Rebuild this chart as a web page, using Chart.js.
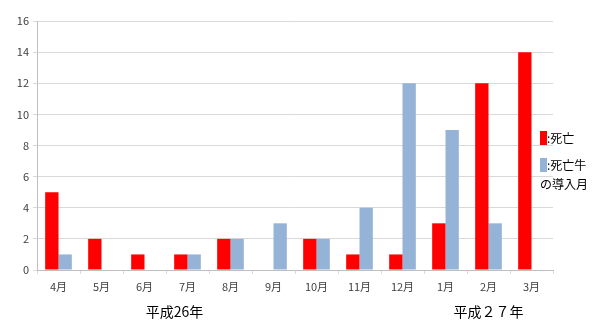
<!DOCTYPE html>
<html lang="ja">
<head>
<meta charset="UTF-8">
<title>死亡と導入月</title>
<script src="https://cdn.jsdelivr.net/npm/chart.js"></script>
<style>
  html, body { margin: 0; padding: 0; background: #fff; }
  #wrap { width: 593px; height: 320px; }
</style>
</head>
<body>
<div id="wrap"><canvas id="chart"></canvas></div>
<script>
const months = ['4月', '5月', '6月', '7月', '8月', '9月', '10月', '11月', '12月', '1月', '2月', '3月'];
const deaths = [5, 2, 1, 1, 2, 0, 2, 1, 1, 3, 12, 14];
const introduced = [1, 0, 0, 1, 2, 3, 2, 4, 12, 9, 3, 0];
const yearLabels = ['平成26年', '平成２７年'];
const legendLabels = [[':死亡'], [':死亡牛', 'の導入月']];
const seriesColors = ['#ff0000', '#95b3d7'];

const FONT = '"Noto Sans CJK JP", "Noto Sans", sans-serif';

// year captions under the month labels + legend at the right
const extras = {
  id: 'extras',
  afterDraw(chart) {
    const ctx = chart.ctx;
    const x = chart.scales.x;
    ctx.save();
    ctx.fillStyle = '#000';
    ctx.font = '14px ' + FONT;
    ctx.textAlign = 'center';
    ctx.textBaseline = 'middle';
    const anchors = [2.7, 10];
    yearLabels.forEach((t, i) => {
      ctx.fillText(t, x.getPixelForValue(anchors[i]), 312);
    });

    const lx = 540;
    const rows = [138, 165];
    ctx.textAlign = 'left';
    ctx.font = '12px ' + FONT;
    legendLabels.forEach((lines, k) => {
      const ly = rows[k];
      ctx.fillStyle = seriesColors[k];
      ctx.fillRect(lx, ly - 7, 7, 14);
      ctx.fillStyle = '#000';
      lines.forEach((t, i) => {
        ctx.fillText(t, i === 0 ? lx + 7 : lx, ly + i * 19);
      });
    });
    ctx.restore();
  }
};

new Chart(document.getElementById('chart'), {
  type: 'bar',
  data: {
    labels: months,
    datasets: [
      { label: '死亡', data: deaths, backgroundColor: seriesColors[0], barPercentage: 1, categoryPercentage: 0.62 },
      { label: '死亡牛の導入月', data: introduced, backgroundColor: seriesColors[1], barPercentage: 1, categoryPercentage: 0.62 }
    ]
  },
  options: {
    responsive: true,
    maintainAspectRatio: false,
    animation: false,
    layout: { padding: { top: 21, right: 40, left: 0, bottom: 0 } },
    plugins: { legend: { display: false }, tooltip: { enabled: false } },
    scales: {
      x: {
        grid: { offset: true, drawOnChartArea: false, color: '#d9d9d9', tickLength: 4 },
        border: { color: '#bfbfbf' },
        ticks: { color: '#404040', font: { size: 11, family: FONT }, padding: 6 },
        afterFit(s) { s.height = 50; }
      },
      y: {
        min: 0,
        max: 16,
        grid: { color: '#d9d9d9', tickLength: 4 },
        border: { color: '#bfbfbf' },
        ticks: { stepSize: 2, color: '#404040', font: { size: 11, family: FONT }, padding: 4 },
        afterFit(s) { s.width = 37; }
      }
    }
  },
  plugins: [extras]
});
</script>
</body>
</html>
